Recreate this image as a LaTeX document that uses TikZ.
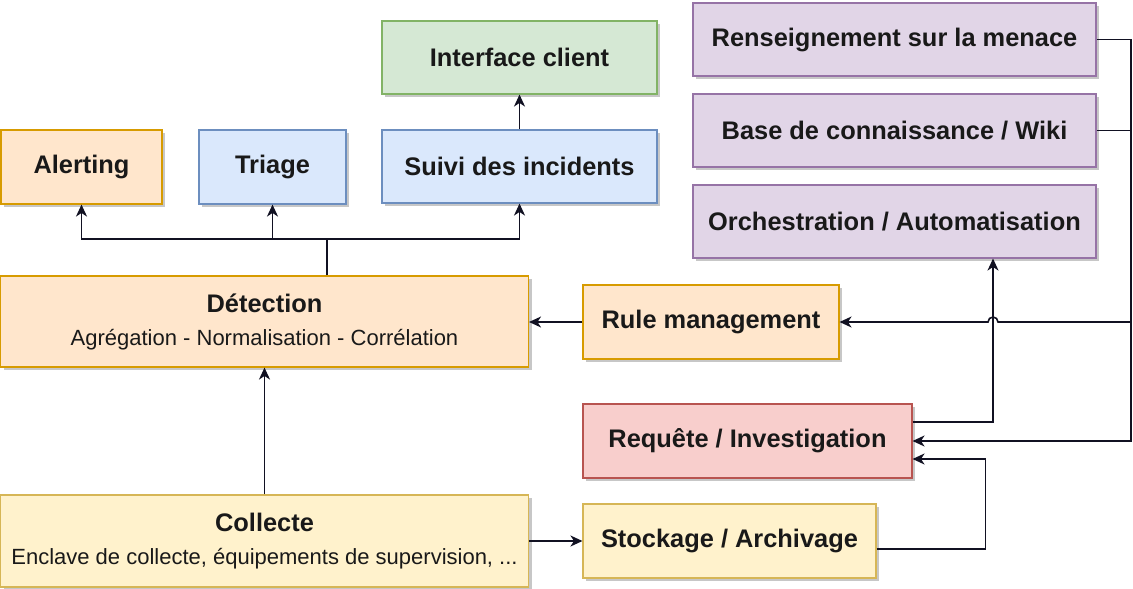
\documentclass[tikz,border=0pt]{standalone}
\usepackage{fontspec}
\setmainfont{Liberation Sans}
\usetikzlibrary{arrows.meta,shadows}

\definecolor{orangefill}{HTML}{FFE6CC}
\definecolor{orangeline}{HTML}{D79B00}
\definecolor{bluefill}{HTML}{DAE8FC}
\definecolor{blueline}{HTML}{6C8EBF}
\definecolor{greenfill}{HTML}{D5E8D4}
\definecolor{greenline}{HTML}{82B366}
\definecolor{purplefill}{HTML}{E1D5E7}
\definecolor{purpleline}{HTML}{9673A6}
\definecolor{redfill}{HTML}{F8CECC}
\definecolor{redline}{HTML}{B85450}
\definecolor{yellowfill}{HTML}{FFF2CC}
\definecolor{yellowline}{HTML}{D6B656}
\definecolor{wire}{HTML}{111122}

\newcommand{\subline}[1]{{\fontsize{11}{16.5}\selectfont\mdseries #1}}

\tikzset{
	box/.style={draw, line width=0.55pt, rectangle, align=center, inner sep=0pt,
		font=\fontsize{12.7}{16.5}\selectfont\bfseries, text=black!90,
		drop shadow={shadow xshift=1.5pt, shadow yshift=-1.5pt, opacity=0.22, fill=black}},
	orangebox/.style={box, fill=orangefill, draw=orangeline},
	bluebox/.style={box, fill=bluefill, draw=blueline},
	greenbox/.style={box, fill=greenfill, draw=greenline},
	purplebox/.style={box, fill=purplefill, draw=purpleline},
	redbox/.style={box, fill=redfill, draw=redline},
	yellowbox/.style={box, fill=yellowfill, draw=yellowline},
	wireline/.style={draw=wire, line width=0.8pt},
	arr/.style={wireline, -{Stealth[length=6pt,width=5.5pt,inset=1.8pt]}}
}

\begin{document}
\begin{tikzpicture}[x=0.5pt, y=-0.5pt]
	\useasboundingbox (0,0) rectangle (1133,588);

	% top row
	\node[greenbox, minimum width=137.5pt, minimum height=36.5pt] (interf) at (519.5,57.5) {Interface client};
	\node[orangebox, minimum width=80.5pt, minimum height=37pt] (alert) at (81.5,167) {Alerting};
	\node[bluebox, minimum width=73.5pt, minimum height=37pt] (triage) at (272.5,167) {Triage};
	\node[bluebox, minimum width=137.5pt, minimum height=36.5pt] (suivi) at (519.5,166.5) {Suivi des incidents};

	% right column
	\node[purplebox, minimum width=201.5pt, minimum height=36.5pt] (rens) at (894.5,39.5) {Renseignement sur la menace};
	\node[purplebox, minimum width=201.5pt, minimum height=36.5pt] (base) at (894.5,130.5) {Base de connaissance / Wiki};
	\node[purplebox, minimum width=201.5pt, minimum height=36.5pt] (orch) at (894.5,221.5) {Orchestration / Automatisation};

	% middle and bottom
	\node[orangebox, minimum width=264pt, minimum height=45.5pt] (detect) at (264.5,321.5) {Détection\\\subline{Agrégation - Normalisation - Corrélation}};
	\node[orangebox, minimum width=128pt, minimum height=37pt] (rule) at (711,322) {Rule management};
	\node[redbox, minimum width=164.5pt, minimum height=37pt] (req) at (747.5,441) {Requête / Investigation};
	\node[yellowbox, minimum width=264pt, minimum height=46pt] (collect) at (264.5,541) {Collecte\\\subline{Enclave de collecte, équipements de supervision, ...}};
	\node[yellowbox, minimum width=146.5pt, minimum height=37pt] (stock) at (729.5,541) {Stockage / Archivage};

	\coordinate (bus) at (327,239);
	\coordinate (rail) at (1131,0);
	\coordinate (hopc) at ([xshift=49.25pt]orch.south |- rule.east);

	\draw[wireline] (detect.north -| bus) -- (bus);
	\draw[arr] (bus) -| (alert.south);
	\draw[arr] (bus) -| (triage.south);
	\draw[arr] (bus) -| (suivi.south);
	\draw[arr] (suivi.north) -- (interf.south);

	\draw[arr] (collect.north) -- (detect.south);
	\draw[arr] (collect.east) -- (stock.west);
	\draw[arr] (rule.west) -- (detect.east |- rule.west);

	\draw[arr] ([yshift=-4pt]stock.east) -- ++(54.5pt,0) |- ([yshift=-9pt]req.east);
	\draw[arr] ([yshift=9.5pt]req.east) -| ([xshift=49.25pt]orch.south);

	\draw[arr] (rens.east) -- (rens.east -| rail) |- (req.east);
	\draw[wireline] (base.east) -- (base.east -| rail);
	\draw[arr] (rule.east -| rail) -- ([xshift=2.5pt]hopc) arc[start angle=0, end angle=180, radius=2.5pt] -- (rule.east);
\end{tikzpicture}
\end{document}
